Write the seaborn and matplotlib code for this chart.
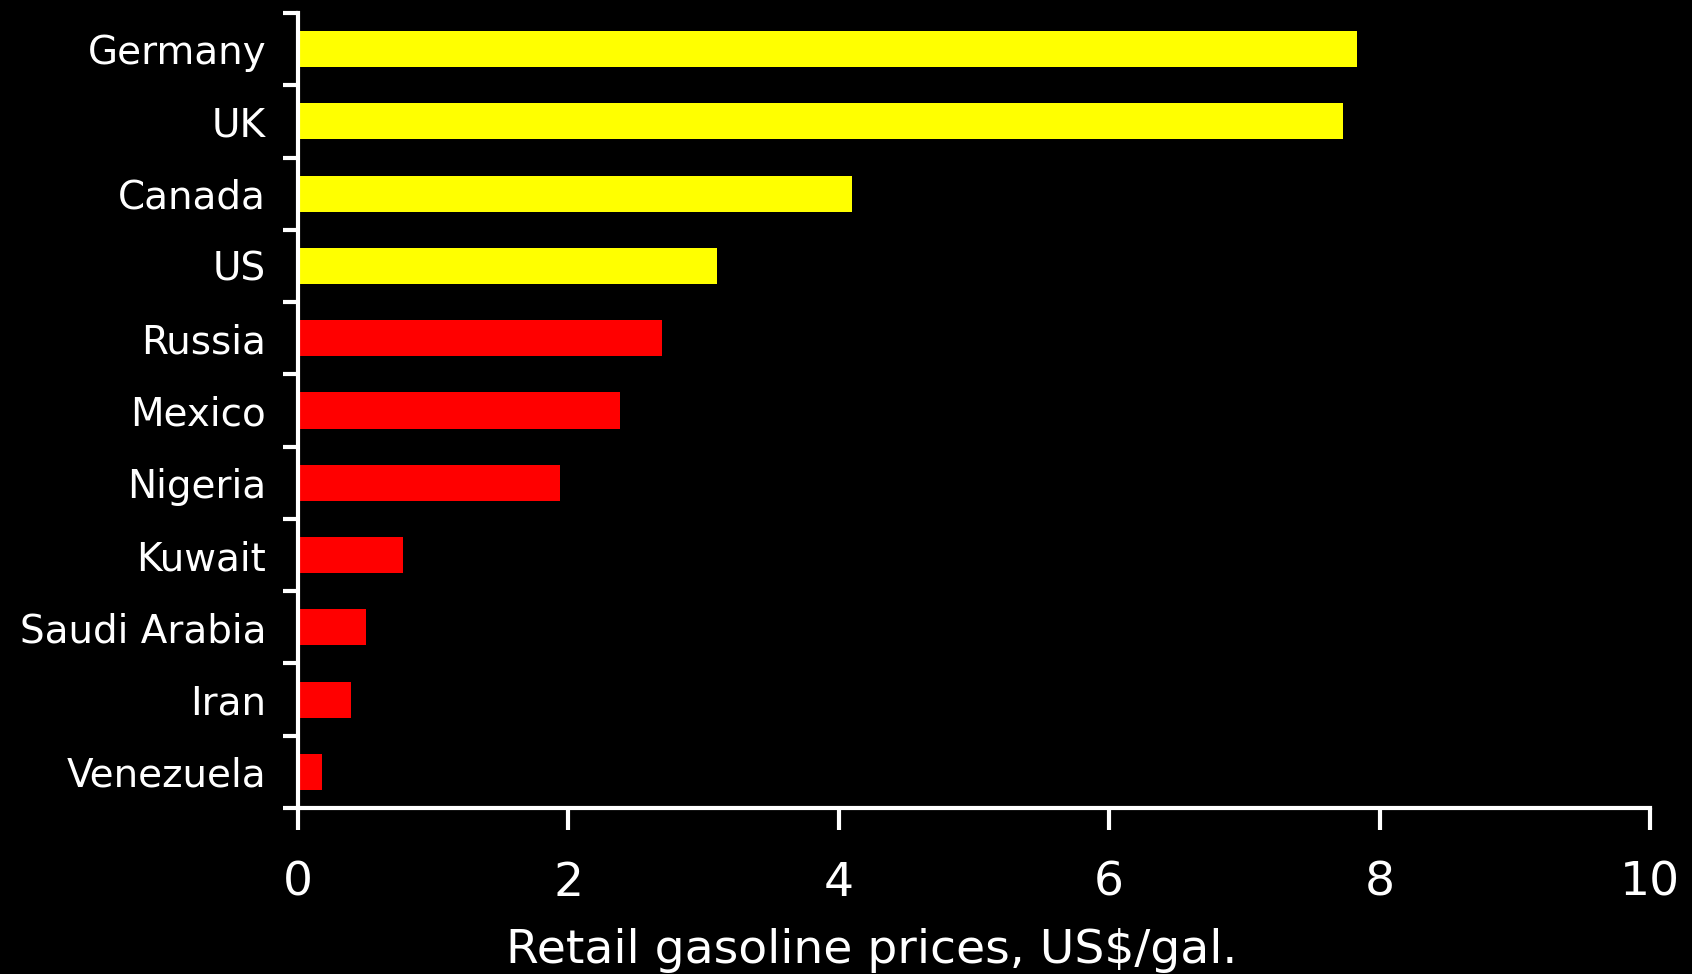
import matplotlib
matplotlib.use("Agg")
import matplotlib.pyplot as plt
import seaborn as sns
import pandas as pd
import numpy as np

countries = ["Germany", "UK", "Canada", "US", "Russia", "Mexico", "Nigeria",
             "Kuwait", "Saudi Arabia", "Iran", "Venezuela"]
prices = [7.83, 7.73, 4.10, 3.10, 2.69, 2.38, 1.94, 0.78, 0.50, 0.39, 0.18]
groups = ["importer"] * 4 + ["producer"] * 7
group_colors = {"importer": "#FFFF00", "producer": "#FF0000"}
x_ticks = [0, 2, 4, 6, 8, 10]
x_label = "Retail gasoline prices, US$/gal."

df = pd.DataFrame({"country": countries, "price": prices, "group": groups})

sns.set_style("dark")
plt.rcParams["font.family"] = ["DejaVu Sans"]

fig = plt.figure(figsize=(16.92, 9.74), dpi=100, facecolor="black")
ax = fig.add_axes([298 / 1692, 1 - 808 / 974, (1650 - 298) / 1692, (808 - 13) / 974])
ax.set_facecolor("black")

sns.barplot(data=df, x="price", y="country", hue="group", palette=group_colors,
            dodge=False, width=0.5, legend=False, saturation=1.0,
            linewidth=0, edgecolor="none", ax=ax)

ax.set_xlim(0, 10)
ax.set_ylim(len(countries) - 0.5, -0.5)
ax.grid(False)

for side in ["top", "right"]:
    ax.spines[side].set_visible(False)
for side in ["left", "bottom"]:
    ax.spines[side].set_visible(True)
    ax.spines[side].set_color("white")
    ax.spines[side].set_linewidth(3)

# x axis: ticks pointing down
ax.set_xticks(x_ticks)
ax.set_xticklabels([str(t) for t in x_ticks])
ax.tick_params(axis="x", direction="out", length=16, width=3, color="white",
               labelcolor="white", labelsize=34, pad=22, bottom=True)

# y axis: category labels at centres, tick marks at category boundaries
ax.set_yticks(np.arange(len(countries)))
ax.set_yticklabels(countries)
ax.set_yticks(np.arange(-0.5, len(countries)), minor=True)
ax.tick_params(axis="y", which="major", length=0, labelcolor="white",
               labelsize=28, pad=23, left=True)
ax.tick_params(axis="y", which="minor", direction="out", length=11, width=3,
               color="white", left=True)

ax.set_ylabel("")
ax.set_xlabel("")
fig.text(872 / 1692, 1 - 963 / 974, x_label, color="white", fontsize=34,
         ha="center", va="baseline")

fig.savefig("out.png", dpi=100, facecolor="black")
